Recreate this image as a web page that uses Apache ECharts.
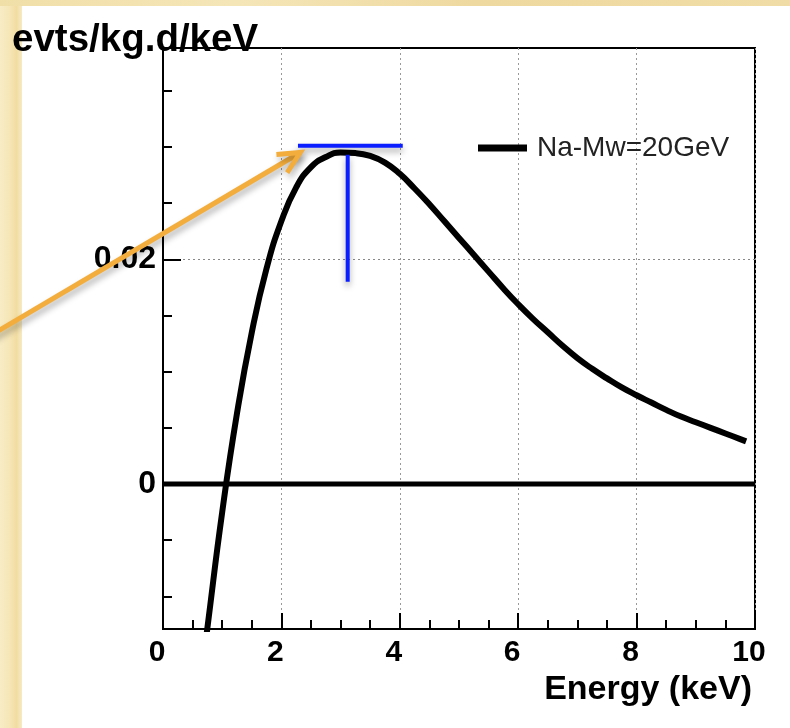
<!DOCTYPE html>
<html>
<head>
<meta charset="utf-8">
<script src="https://cdn.jsdelivr.net/npm/echarts@6/dist/echarts.min.js"></script>
<style>
html, body { margin: 0; padding: 0; background: #fff; }
#main { width: 790px; height: 728px; }
</style>
</head>
<body>
<div id="main"></div>
<script>
// spectrum
var energy = [0.7, 0.75, 1.0, 1.25, 1.5, 1.75, 2.0, 2.25, 2.5, 2.75, 3.0, 3.25, 3.5, 3.75, 4.0, 4.25, 4.5, 4.75, 5.0, 5.25, 5.5, 5.75, 6.0, 6.25, 6.5, 6.75, 7.0, 7.25, 7.5, 7.75, 8.0, 8.25, 8.5, 8.75, 9.0, 9.25, 9.5, 9.75, 9.85];
var rate = [-0.0149, -0.0128, -0.0025, 0.0063, 0.0135, 0.0192, 0.0234, 0.0264, 0.0282, 0.0291, 0.0295, 0.02945, 0.0292, 0.0286, 0.0276, 0.0263, 0.0249, 0.0234, 0.0219, 0.0204, 0.0189, 0.0174, 0.0160, 0.0147, 0.0135, 0.0123, 0.0112, 0.01025, 0.0094, 0.0086, 0.00790, 0.00725, 0.0066, 0.0060, 0.0055, 0.0050, 0.0045, 0.0040, 0.0038];
var seriesName = 'Na-Mw=20GeV';

var zeroLine = [[0, 0], [10, 0]];
var peakBarH = [[2.28, 0.0301], [4.05, 0.0301]];
var peakBarV = [[3.12, 0.0293], [3.12, 0.0180]];
var arrowFrom = [-3.0, 0.01295];
var arrowTo = [2.32, 0.0295];

var xTicks = [0, 2, 4, 6, 8, 10];
var yMajor = [0, 0.02];
var yMinor = [-0.01, -0.005, 0.005, 0.01, 0.015, 0.025, 0.03, 0.035];

var curve = [];
for (var i = 0; i < energy.length; i++) curve.push([energy[i], rate[i]]);

var font = 'Liberation Sans, Arial, sans-serif';
var myChart = echarts.init(document.getElementById('main'));

var option = {
    backgroundColor: '#fff',
    animation: false,
    grid: {
        left: 163, right: 35, top: 48, bottom: 99,
        show: true, borderColor: '#000', borderWidth: 2, backgroundColor: '#fff'
    },
    legend: {
        data: [seriesName],
        left: 478, top: 134, padding: 0,
        icon: 'rect', itemWidth: 49, itemHeight: 7,
        textStyle: { fontFamily: font, fontSize: 28, color: '#222', padding: [0, 0, 0, 5] }
    },
    xAxis: {
        type: 'value', min: 0, max: 10, interval: 2,
        axisLine: { onZero: false, lineStyle: { color: '#000', width: 2 } },
        axisTick: { inside: true, length: 16, lineStyle: { color: '#000', width: 2 } },
        minorTick: { show: true, splitNumber: 4, length: 9, lineStyle: { color: '#000', width: 2 } },
        axisLabel: {
            margin: 9, padding: [0, 12, 0, 0], fontFamily: font, fontWeight: 'bold', fontSize: 30, color: '#000',
            formatter: function (v) { return xTicks.indexOf(v) >= 0 ? String(v) : ''; }
        },
        splitLine: { show: true, lineStyle: { color: '#999', width: 1, type: [2, 3] } }
    },
    yAxis: [{
        type: 'value', min: -0.0129, max: 0.0388,
        axisLine: { show: true, onZero: false, lineStyle: { color: '#000', width: 2 } },
        axisTick: { inside: true, length: 18, customValues: yMajor, lineStyle: { color: '#000', width: 2 } },
        axisLabel: {
            margin: 7, customValues: yMajor, fontFamily: font, fontWeight: 'bold', fontSize: 32, color: '#000',
            formatter: function (v) { return v === 0 ? '0' : v.toFixed(2); }
        },
        splitLine: { show: true, lineStyle: { color: '#888', width: 1, type: [2, 3] } }
    }, {
        type: 'value', min: -0.0129, max: 0.0388, position: 'left',
        axisLine: { show: false, onZero: false },
        axisTick: { inside: true, length: 9, customValues: yMinor, lineStyle: { color: '#000', width: 2 } },
        axisLabel: { show: false },
        splitLine: { show: false }
    }],
    series: [{
        name: 'zero',
        type: 'line', data: zeroLine, symbol: 'none', silent: true,
        lineStyle: { color: '#000', width: 5 }
    }, {
        name: seriesName,
        type: 'line', data: curve, symbol: 'none', smooth: 0.5,
        lineStyle: { color: '#000', width: 6 },
        itemStyle: { color: '#000' },
        z: 3
    }, {
        name: 'peakH',
        type: 'line', data: peakBarH, symbol: 'none', clip: false,
        lineStyle: { color: '#0a1eff', width: 4, shadowColor: 'rgba(0,0,0,0.35)', shadowBlur: 6, shadowOffsetY: 4 },
        z: 4
    }, {
        name: 'peakV',
        type: 'line', data: peakBarV, symbol: 'none',
        lineStyle: { color: '#0a1eff', width: 4, shadowColor: 'rgba(0,0,0,0.35)', shadowBlur: 6, shadowOffsetY: 4 },
        z: 4
    }]
};
myChart.setOption(option);

// arrow in data space, drawn as graphic through the grid's scale
var p0 = myChart.convertToPixel({ gridIndex: 0 }, arrowFrom);
var p1 = myChart.convertToPixel({ gridIndex: 0 }, arrowTo);
var ang = Math.atan2(p0[1] - p1[1], p0[0] - p1[0]);
var headLen = 24, spread = 26 * Math.PI / 180;
var h1 = [p1[0] + headLen * Math.cos(ang - spread), p1[1] + headLen * Math.sin(ang - spread)];
var h2 = [p1[0] + headLen * Math.cos(ang + spread), p1[1] + headLen * Math.sin(ang + spread)];
var arrowStyle = {
    stroke: '#f3ad3c', lineWidth: 5, fill: null, lineCap: 'butt', lineJoin: 'miter',
    shadowColor: 'rgba(0,0,0,0.3)', shadowBlur: 6, shadowOffsetX: 2, shadowOffsetY: 4
};

myChart.setOption({
    graphic: [{
        type: 'rect', z: 0, silent: true,
        shape: { x: 0, y: 0, width: 22, height: 728 },
        style: { fill: new echarts.graphic.LinearGradient(0, 0, 1, 0, [
            { offset: 0, color: '#f8ecc6' }, { offset: 0.45, color: '#f6e6b6' },
            { offset: 0.75, color: '#f1dca2' }, { offset: 1, color: '#f7eac4' }]) }
    }, {
        type: 'rect', z: 0, silent: true,
        shape: { x: 0, y: 0, width: 790, height: 6 },
        style: { fill: new echarts.graphic.LinearGradient(0, 0, 1, 0, [
            { offset: 0, color: '#f1dfa8' }, { offset: 0.3, color: '#f5e6b8' },
            { offset: 0.6, color: '#eed9a0' }, { offset: 1, color: '#f0dca6' }]) }
    }, {
        type: 'polyline', z: 20, silent: true,
        shape: { points: [p0, p1] }, style: arrowStyle
    }, {
        type: 'polyline', z: 20, silent: true,
        shape: { points: [h1, p1, h2] }, style: arrowStyle
    }, {
        type: 'text', z: 20, left: 12, top: 21,
        style: { text: 'evts/kg.d/keV', fontFamily: font, fontWeight: 'bold', fontSize: 38.5, fill: '#000' }
    }, {
        type: 'text', z: 20, right: 38, top: 673,
        style: { text: 'Energy (keV)', fontFamily: font, fontWeight: 'bold', fontSize: 34, fill: '#000' }
    }]
});
</script>
</body>
</html>
